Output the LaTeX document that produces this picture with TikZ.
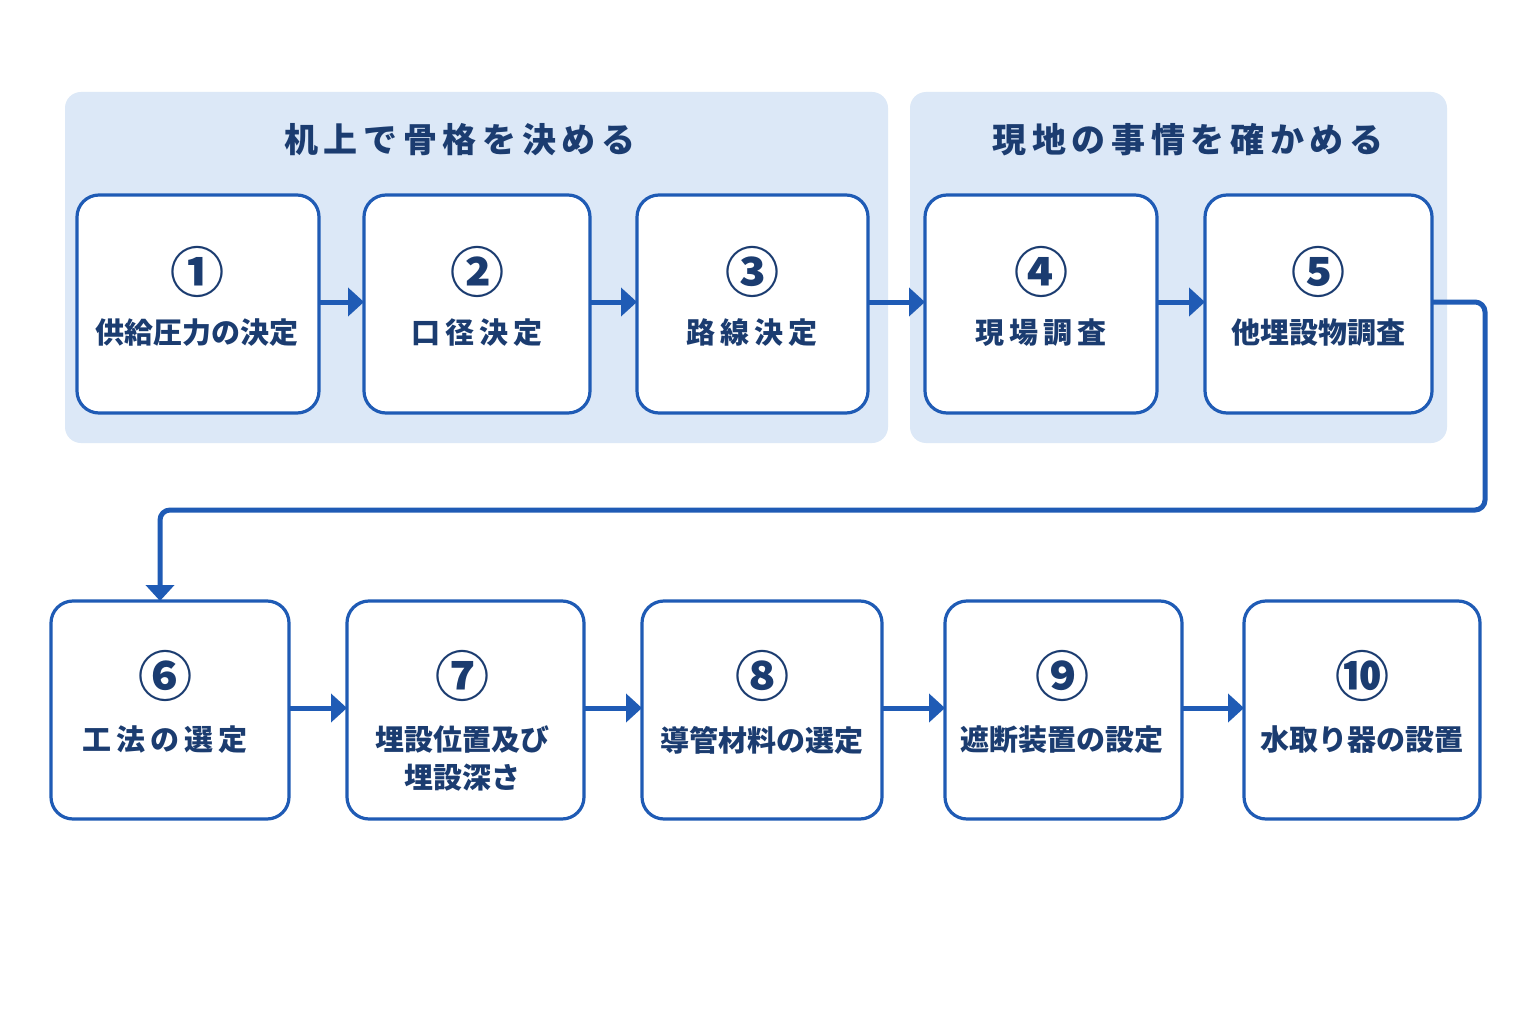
\documentclass[tikz,border=0pt]{standalone}
\usepackage{fontspec}
\setmainfont{Noto Sans CJK JP}
\usetikzlibrary{arrows.meta}
\definecolor{panel}{HTML}{DCE8F7}
\definecolor{edge}{HTML}{1F5BB5}
\definecolor{ink}{HTML}{1B3C70}
\begin{document}
\begin{tikzpicture}[x=1pt,y=-1pt,
  panelbox/.style={fill=panel,draw=none,rounded corners=16pt},
  stepbox/.style={draw=edge,line width=3.2pt,fill=white,rounded corners=22pt},
  num/.style={text=ink,font=\bfseries\fontsize{54pt}{56pt}\selectfont},
  lab/.style={text=ink,font=\bfseries\fontsize{29pt}{40pt}\selectfont,align=center},
  ttl/.style={text=ink,font=\bfseries\fontsize{34pt}{40pt}\selectfont},
  arr/.style={draw=edge,line width=5pt,-{Triangle[length=16pt,width=28pt]}}]
\useasboundingbox[fill=white] (0,0) rectangle (1536,1024);
\fill[panelbox] (65,92) rectangle (888,443);
\fill[panelbox] (910,92) rectangle (1447,443);
\node[ttl] (t1) at (460,140) {机\,上\,で\,骨\,格\,を\,決\,め\,る};
\node[ttl] (t2) at (1188,140) {現\,地\,の\,事\,情\,を\,確\,か\,め\,る};
\foreach \n/\a/\b in {1/77/319,2/364/590,3/637/868,4/925/1157,5/1205/1432}{
  \path[stepbox] (\a,195) rectangle (\b,413);
  \coordinate (L\n) at (\a,302); \coordinate (R\n) at (\b,302);}
\foreach \n/\a/\b in {6/51/289,7/347/584,8/642/882,9/945/1182,10/1244/1480}{
  \path[stepbox] (\a,601) rectangle (\b,819);
  \coordinate (L\n) at (\a,708); \coordinate (R\n) at (\b,708);}
\node[num] (n1) at (197,272) {①}; \node[lab] (s1) at (197,333) {供給圧力の決定};
\node[num] (n2) at (477,272) {②}; \node[lab] (s2) at (477,333) {口\,径\,決\,定};
\node[num] (n3) at (752,272) {③}; \node[lab] (s3) at (752,333) {路\,線\,決\,定};
\node[num] (n4) at (1041,272) {④}; \node[lab] (s4) at (1041,333) {現\,場\,調\,査};
\node[num] (n5) at (1318,272) {⑤}; \node[lab] (s5) at (1318,333) {他埋設物調査};
\node[num] (n6) at (165,676) {⑥}; \node[lab] (s6) at (165,740) {工\,法\,の\,選\,定};
\node[num] (n7) at (462,676) {⑦}; \node[lab] (s7) at (462,758) {埋設位置及び\\[-2pt]埋設深さ};
\node[num] (n8) at (762,676) {⑧}; \node[lab] (s8) at (762,740) {導管材料の選定};
\node[num] (n9) at (1062,676) {⑨}; \node[lab] (s9) at (1062,740) {遮断装置の設定};
\node[num] (n10) at (1362,676) {⑩}; \node[lab] (s10) at (1362,740) {水取り器の設置};
\foreach \a/\b in {1/2,2/3,3/4,4/5,6/7,7/8,8/9,9/10}{
  \draw[arr] (R\a) -- (L\b);}
\coordinate (top6) at (160,601);
\draw[arr,rounded corners=10pt] (R5) -- (1485,302) -- (1485,510) -- (160,510) -- (top6);
\end{tikzpicture}
\end{document}
